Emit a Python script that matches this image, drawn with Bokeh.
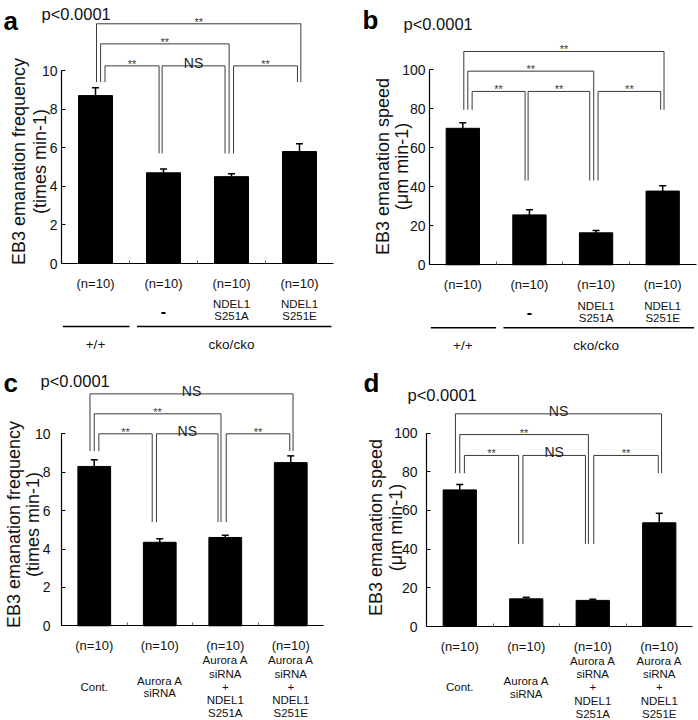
import math
from bokeh.plotting import figure
from bokeh.models import (ColumnDataSource, FixedTicker, Whisker, TeeHead, Range1d,
                          LinearAxis)
from bokeh.embed import file_html
from bokeh.resources import INLINE
from bokeh.core.properties import value

FONT = "Liberation Sans"

# ---------------- data ----------------
n_labels = ["(n=10)", "(n=10)", "(n=10)", "(n=10)"]

freq_cko = [8.7, 4.7, 4.5, 5.8]
freq_cko_sem = [0.4, 0.2, 0.15, 0.4]
speed_cko = [70.0, 25.6, 16.4, 37.8]
speed_cko_sem = [2.8, 2.6, 1.2, 2.7]

freq_aurora = [8.3, 4.35, 4.6, 8.5]
freq_aurora_sem = [0.35, 0.18, 0.12, 0.35]
speed_aurora = [70.6, 14.3, 13.5, 53.6]
speed_aurora_sem = [2.8, 0.8, 0.6, 4.9]

cko_conditions = [[], ["-"], ["NDEL1", "S251A"], ["NDEL1", "S251E"]]
cko_genotypes = ["+/+", "cko/cko"]
cko_genotype_bars = [[0], [1, 2, 3]]
aurora_conditions = [["Cont."], ["Aurora A", "siRNA"],
                     ["Aurora A", "siRNA", "+", "NDEL1", "S251A"],
                     ["Aurora A", "siRNA", "+", "NDEL1", "S251E"]]

freq_ticks = [0, 2, 4, 6, 8, 10]
speed_ticks = [0, 20, 40, 60, 80, 100]

freq_label = ["EB3 emanation frequency", "(times min-1)"]
speed_label = ["EB3 emanation speed", "(\u03bcm min-1)"]
p_value = "p<0.0001"

bracket_pairs = [(0, 3), (0, 2), (0, 1), (1, 2), (2, 3)]
bracket_tier = [2, 1, 0, 0, 0]
marks_a = ["**", "**", "**", "NS", "**"]
marks_b = ["**", "**", "**", "**", "**"]
marks_c = ["NS", "**", "**", "NS", "**"]
marks_d = ["NS", "**", "**", "NS", "**"]
tiers_a = [10.24, 11.38, 12.42]
tiers_b = [88.9, 99.3, 109.4]
tiers_c = [10.0, 11.04, 12.08]
tiers_d = [88.4, 99.2, 109.9]
legs_a = [9.4, 5.7, 5.7, 9.4]
legs_b = [79.5, 43.2, 43.2, 79.5]
legs_c = [9.1, 5.4, 5.4, 9.1]
legs_d = [79.2, 42.7, 42.7, 79.2]

# ---------------- layout (canvas pixels) ----------------
W, H = 698, 720
LAYOUT = {
    "a": dict(left=61, right=333, y0=263.0, ppu=19.3, letter=(3, 20), pv=(41, 13.5),
              ylab=(18, 39), ylab_mid=161, standoff=4, bottom="cko"),
    "b": dict(left=429, right=695.5, y0=264.3, ppu=1.95, letter=(362, 19), pv=(403, 23.3),
              ylab=(382, 401), ylab_mid=166, standoff=4, bottom="cko"),
    "c": dict(left=61, right=323, y0=625.3, ppu=19.2, letter=(3, 382), pv=(40, 380),
              ylab=(13, 32), ylab_mid=524, standoff=11, bottom="aurora"),
    "d": dict(left=426, right=692, y0=626.0, ppu=1.935, letter=(363, 382), pv=(407, 394),
              ylab=(375.7, 395.5), ylab_mid=527, standoff=9, bottom="aurora"),
}
LEG_OFFSETS = {
    "ab": [(0.015, 0.02), (0.075, -0.035), (0.14, -0.065), (-0.02, -0.095), (0.03, -0.03)],
    "cd": [(-0.065, 0.035), (0.0, -0.065), (0.07, -0.115), (-0.05, -0.11), (0.015, -0.015)],
}
BAR_W = 0.5
LINE_GREY = "#3a3a3a"

p = figure(width=W, height=H, output_backend="svg", toolbar_location=None,
           x_range=Range1d(0, W), y_range=Range1d(0, H),
           x_axis_location=None, y_axis_location=None,
           min_border=0, min_border_left=0, min_border_right=0,
           min_border_top=0, min_border_bottom=0)
p.outline_line_color = None
p.xgrid.visible = False
p.ygrid.visible = False
p.background_fill_color = "white"
p.border_fill_color = "white"


def txt(kw, x, y, t, size, align="center", style="normal", color="#111111", angle=0.0):
    p.text(x=x, y=y, text=t, text_font=value(FONT), text_font_size=size,
           text_font_style=style, text_align=align, text_baseline="alphabetic",
           text_color=color, angle=angle, **kw)


def make_panel(key, vals, sems, ticks, ylabel, marks, tiers, legs, offsets):
    L = LAYOUT[key]
    ppx = (L["right"] - L["left"]) / 4.0
    ppy = L["ppu"]
    y0 = L["y0"]

    def X(px):
        return -0.5 + (px - L["left"]) / ppx

    def Y(py):
        return (y0 - py) / ppy

    xk, yk = "x" + key, "y" + key
    p.extra_x_ranges[xk] = Range1d(X(0), X(W))
    p.extra_y_ranges[yk] = Range1d(Y(H), Y(0))
    kw = dict(x_range_name=xk, y_range_name=yk)

    yax = LinearAxis(fixed_location=-0.5, bounds=(ticks[0], ticks[-1]),
                     ticker=FixedTicker(ticks=ticks), **kw)
    yax.major_tick_in = 4
    yax.major_tick_out = 0
    yax.minor_tick_line_color = None
    yax.axis_line_color = "black"
    yax.axis_line_width = 1.2
    yax.major_tick_line_color = "black"
    yax.major_label_text_font = FONT
    yax.major_label_text_font_size = "14px"
    yax.major_label_text_color = "#111111"
    yax.major_label_standoff = L["standoff"]
    p.add_layout(yax, "left")

    xs = list(range(len(vals)))
    mids = [x + 0.5 for x in xs[:-1]]
    xax = LinearAxis(fixed_location=0, bounds=(-0.5, 3.5), ticker=FixedTicker(ticks=mids), **kw)
    xax.major_tick_in = 3
    xax.major_tick_out = 0
    xax.minor_tick_line_color = None
    xax.axis_line_color = "black"
    xax.axis_line_width = 1.2
    xax.major_tick_line_color = "#666666"
    xax.major_label_text_font_size = "0px"
    xax.major_label_text_color = None
    p.add_layout(xax, "below")

    p.vbar(x=xs, top=vals, bottom=0, width=BAR_W, fill_color="black", line_color="black", **kw)
    src = ColumnDataSource(dict(x=xs, lower=vals, upper=[v + s for v, s in zip(vals, sems)]))
    p.add_layout(Whisker(source=src, base="x", lower="lower", upper="upper",
                         line_color="black", line_width=1.5, lower_head=None,
                         upper_head=TeeHead(size=7, line_color="black", line_width=1.5), **kw))

    # significance brackets
    bxs, bys = [], []
    star_x, star_y, star_t, ns_x, ns_y, ns_t = [], [], [], [], [], []
    for k, ((i, j), tier) in enumerate(zip(bracket_pairs, bracket_tier)):
        oi, oj = offsets[k]
        xl, xr = i + oi, j + oj
        h = tiers[tier]
        bxs.append([xl, xl, xr, xr])
        bys.append([legs[i], h, h, legs[j]])
        if marks[k] == "NS":
            ns_x.append((xl + xr) / 2); ns_y.append(h + 3 / ppy); ns_t.append(marks[k])
        else:
            star_x.append((xl + xr) / 2); star_y.append(h + 2 / ppy); star_t.append(marks[k])
    p.multi_line(bxs, bys, line_color=LINE_GREY, line_width=1, **kw)
    if star_t:
        txt(kw, star_x, star_y, star_t, "11px", color="#3a3a3a")
    if ns_t:
        txt(kw, ns_x, ns_y, ns_t, "14px", color="#222222")

    # n labels under bars
    txt(kw, xs, [Y(y0 + 15 + 0.36 * 13)] * 4, n_labels, "13px")

    # panel letter, p-value, y label
    lx, lb = L["letter"]
    txt(kw, [X(lx)], [Y(lb)], [key], "26px", align="left", style="bold", color="black")
    px_, pb = L["pv"]
    txt(kw, [X(px_)], [Y(pb)], [p_value], "16.5px", align="left")
    mid = Y(L["ylab_mid"])
    for line, bx in zip(ylabel, L["ylab"]):
        txt(kw, [X(bx)], [mid], [line], "18px", angle=math.pi / 2)

    # condition labels
    if L["bottom"] == "cko":
        mid_off, sp = 42.75, 12.5
        conds = cko_conditions
    else:
        mid_off, sp = 56.8, 13.2
        conds = aurora_conditions
    for i, lines in enumerate(conds):
        k = len(lines)
        sp_i = sp if k > 2 else 12.2
        for n, t in enumerate(lines):
            c = y0 + mid_off + (n - (k - 1) / 2) * sp_i
            if t == "-":
                txt(kw, [i], [Y(c + 0.28 * 16)], [t], "16px", style="bold", color="black")
            else:
                txt(kw, [i], [Y(c + 0.36 * 11.5)], [t], "11.5px")

    if L["bottom"] == "cko":
        pad_l, pad_r = [0.48, 0.39], [0.5, 0.47]
        for g, (name, bars) in enumerate(zip(cko_genotypes, cko_genotype_bars)):
            x0, x1 = bars[0] - pad_l[g], min(bars[-1] + pad_r[g], 3.5)
            p.segment(x0=[x0], x1=[x1], y0=[Y(y0 + 63)], y1=[Y(y0 + 63)],
                      line_color="black", line_width=1.5, **kw)
            txt(kw, [sum(bars) / len(bars)], [Y(y0 + 76 + 0.36 * 13.5)], [name], "13.5px")


make_panel("a", freq_cko, freq_cko_sem, freq_ticks, freq_label,
           marks_a, tiers_a, legs_a, LEG_OFFSETS["ab"])
make_panel("b", speed_cko, speed_cko_sem, speed_ticks, speed_label,
           marks_b, tiers_b, legs_b, LEG_OFFSETS["ab"])
make_panel("c", freq_aurora, freq_aurora_sem, freq_ticks, freq_label,
           marks_c, tiers_c, legs_c, LEG_OFFSETS["cd"])
make_panel("d", speed_aurora, speed_aurora_sem, speed_ticks, speed_label,
           marks_d, tiers_d, legs_d, LEG_OFFSETS["cd"])

open("out.html", "w").write(file_html(p, INLINE))
